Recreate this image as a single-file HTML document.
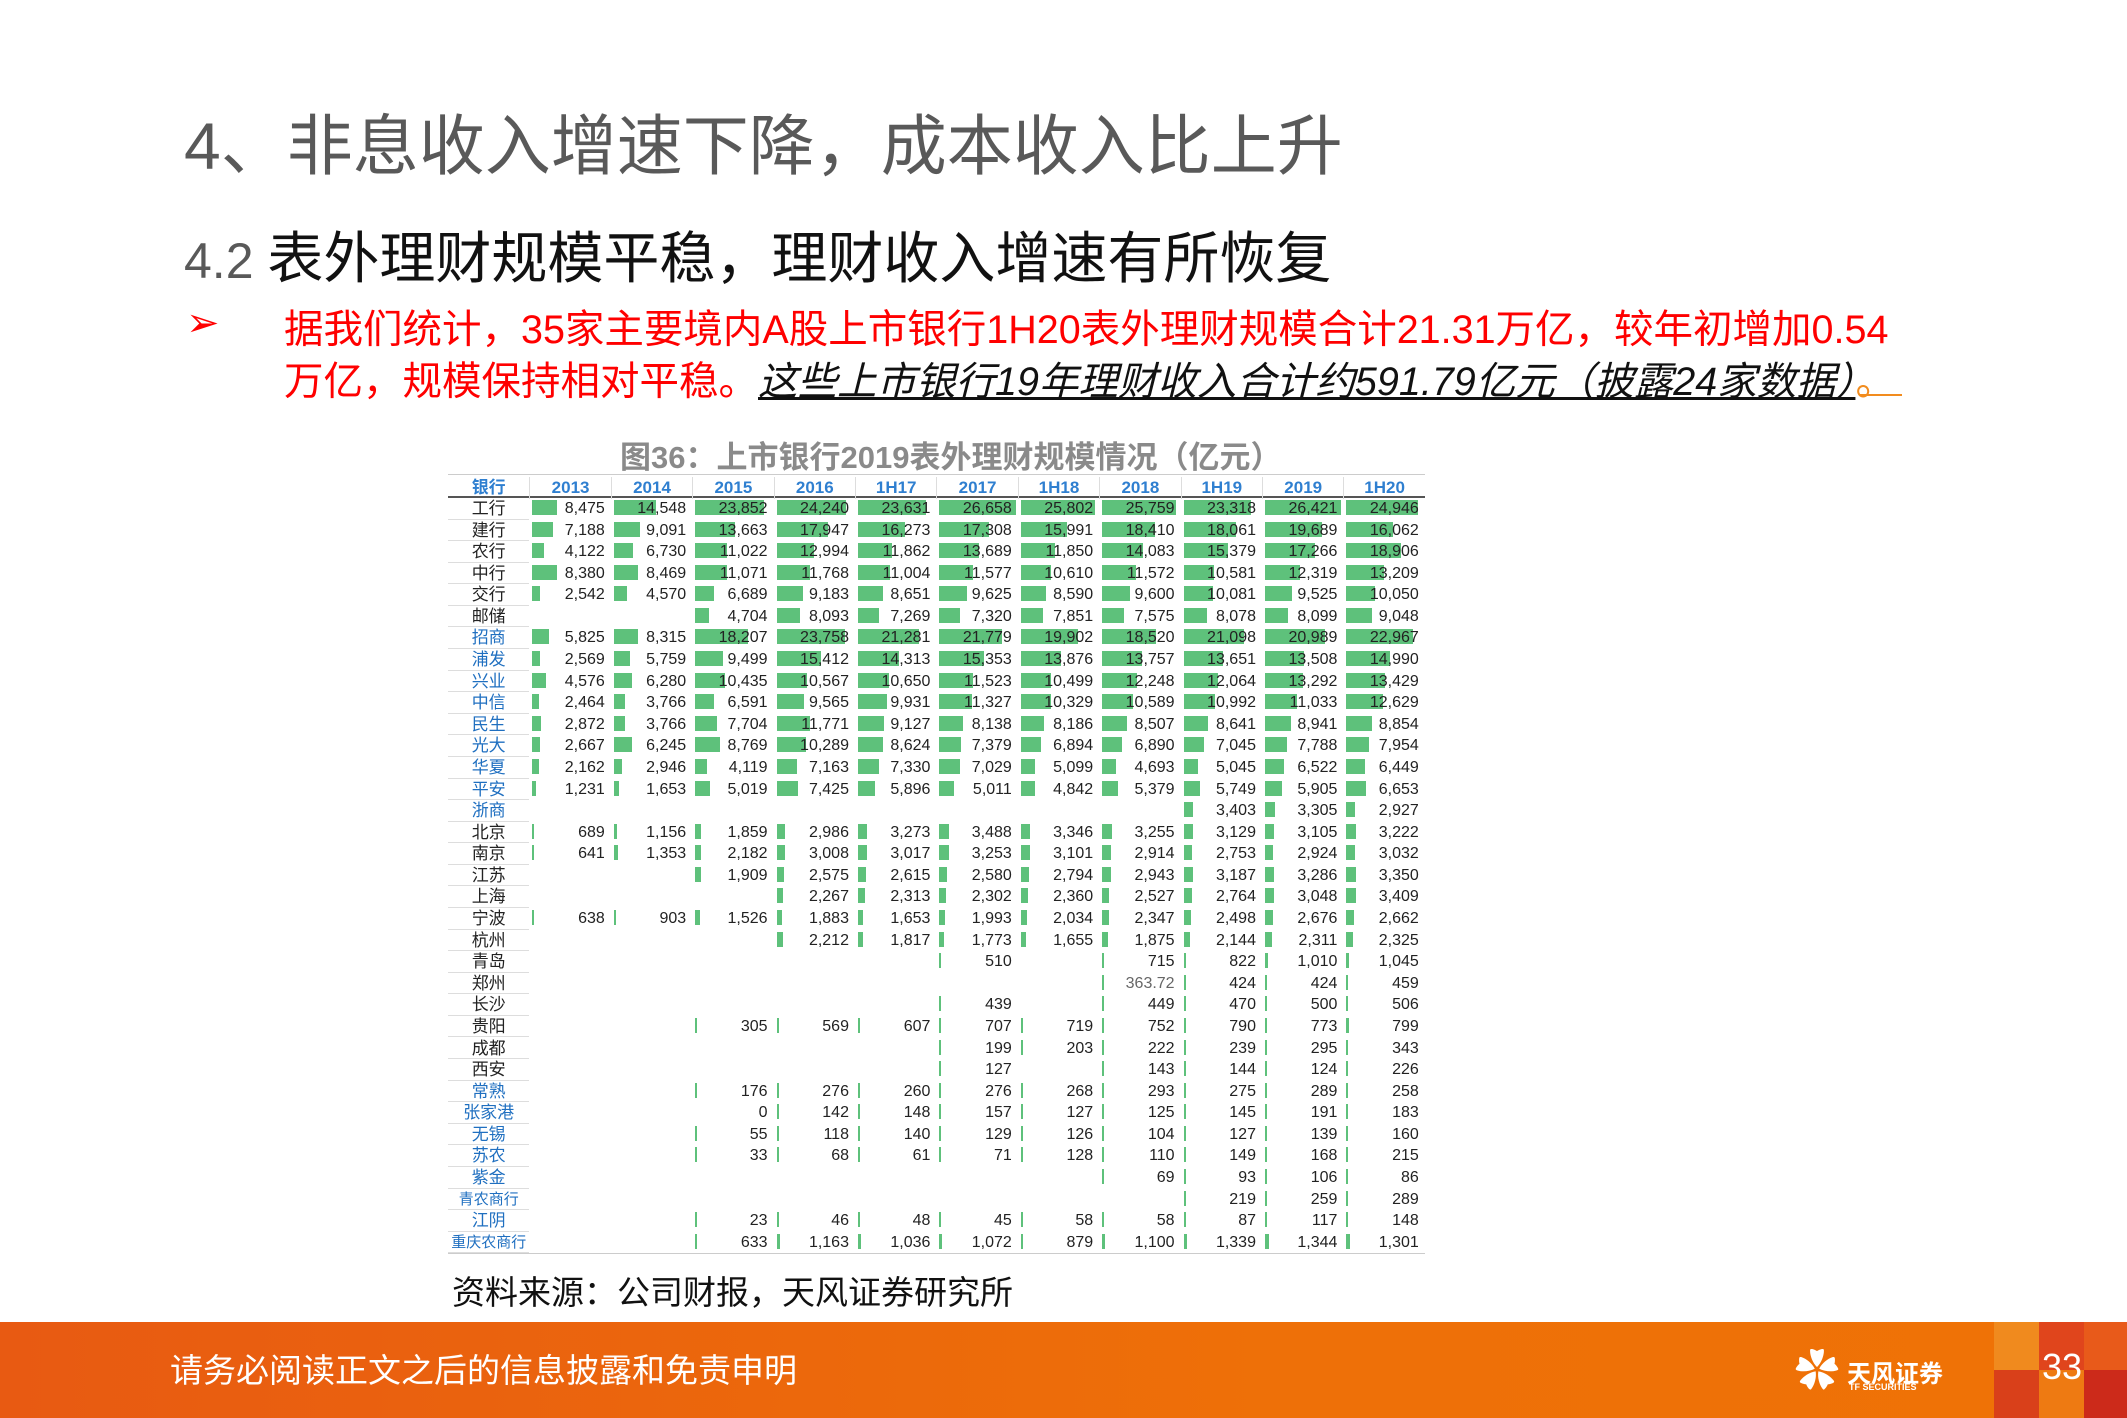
<!DOCTYPE html>
<html><head><meta charset="utf-8">
<style>
body{margin:0;width:2127px;height:1418px;position:relative;background:#fff;overflow:hidden;font-family:"Liberation Sans","Noto Sans CJK SC",sans-serif}
.abs{position:absolute;white-space:nowrap}
.cell{position:absolute;font-size:16px;color:#222;text-align:right;line-height:21px}
.bar{position:absolute;background:#5ec17b;height:15px}
.nm{position:absolute;font-size:17px;text-align:center;line-height:21px;font-family:"Liberation Sans","Noto Sans CJK SC",sans-serif}
.hd{position:absolute;font-size:17px;font-weight:bold;color:#2f7fd0;text-align:center;line-height:22px}
</style></head><body>
<div class="abs" style="left:184px;top:93px;font-size:66px;color:#595959;font-family:'Liberation Sans','Noto Sans CJK SC',sans-serif">4、非息收入增速下降，成本收入比上升</div>
<div class="abs" style="left:184px;top:214px;font-size:56px;color:#111;font-family:'Liberation Sans','Noto Sans CJK SC',sans-serif"><span style="color:#595959;font-size:50px">4.2 </span>表外理财规模平稳，理财收入增速有所恢复</div>
<div class="abs" style="left:186px;top:300px;font-size:40px;color:#ff0000">➢</div>
<div class="abs" style="left:284px;top:298px;font-size:39.5px;color:#ff0000">据我们统计，35家主要境内A股上市银行1H20表外理财规模合计21.31万亿，较年初增加0.54</div>
<div class="abs" style="left:284px;top:350px;font-size:39.5px;color:#ff0000">万亿，规模保持相对平稳。<span style="color:#111;font-style:italic;text-decoration:underline">这些上市银行19年理财收入合计约591.79亿元（披露24家数据）</span><span style="color:#f28c1e">。</span></div>
<div class="abs" style="left:1860px;top:394px;width:42px;height:2px;background:#f28c1e"></div>
<div class="abs" style="left:620px;top:432px;font-size:31px;font-weight:bold;color:#8a8a8a">图36：上市银行2019表外理财规模情况（亿元）</div>
<div id="tbl" style="position:absolute;left:0;top:0"></div>
<div class="abs" style="left:452px;top:1266px;font-size:33px;color:#111">资料来源：公司财报，天风证券研究所</div>
<div class="abs" style="left:0;top:1322px;width:2127px;height:96px;background:linear-gradient(90deg,#e85a12,#ee7008 60%,#ef7206)"></div>
<div class="abs" style="left:1994px;top:1322px;width:133px;height:96px">
 <div style="position:absolute;left:0;top:0;width:45px;height:48px;background:#f08a1e"></div>
 <div style="position:absolute;left:45px;top:0;width:45px;height:48px;background:#e0451c"></div>
 <div style="position:absolute;left:90px;top:0;width:43px;height:48px;background:#e85a1a"></div>
 <div style="position:absolute;left:0;top:48px;width:45px;height:48px;background:#d9401a"></div>
 <div style="position:absolute;left:45px;top:48px;width:45px;height:48px;background:#ee7a12"></div>
 <div style="position:absolute;left:90px;top:48px;width:43px;height:48px;background:#cc2a1a"></div>
</div>
<div class="abs" style="left:170px;top:1344px;font-size:33px;color:#fff">请务必阅读正文之后的信息披露和免责申明</div>
<div class="abs" style="left:1795px;top:1342px;color:#fff">
 <div style="position:absolute;left:0;top:8px;width:44px;height:44px;font-size:44px;line-height:44px">✿</div>
 <div style="position:absolute;left:52px;top:12px;font-size:24px;font-weight:bold">天风证券</div>
 <div style="position:absolute;left:54px;top:40px;font-size:9px;font-weight:bold">TF SECURITIES</div>
</div>
<div class="abs" style="left:2042px;top:1346px;font-size:36px;color:#fff">33</div>
<script>
const periods=["2013","2014","2015","2016","1H17","2017","1H18","2018","1H19","2019","1H20"];
const banks=["工行","建行","农行","中行","交行","邮储","招商","浦发","兴业","中信","民生","光大","华夏","平安","浙商","北京","南京","江苏","上海","宁波","杭州","青岛","郑州","长沙","贵阳","成都","西安","常熟","张家港","无锡","苏农","紫金","青农商行","江阴","重庆农商行"];
const blueBanks=["招商","浦发","兴业","中信","民生","光大","华夏","平安","浙商","常熟","张家港","无锡","苏农","紫金","青农商行","江阴","重庆农商行"];
const N=null;
const values=[
[8475,14548,23852,24240,23631,26658,25802,25759,23318,26421,24946],
[7188,9091,13663,17947,16273,17308,15991,18410,18061,19689,16062],
[4122,6730,11022,12994,11862,13689,11850,14083,15379,17266,18906],
[8380,8469,11071,11768,11004,11577,10610,11572,10581,12319,13209],
[2542,4570,6689,9183,8651,9625,8590,9600,10081,9525,10050],
[N,N,4704,8093,7269,7320,7851,7575,8078,8099,9048],
[5825,8315,18207,23758,21281,21779,19902,18520,21098,20989,22967],
[2569,5759,9499,15412,14313,15353,13876,13757,13651,13508,14990],
[4576,6280,10435,10567,10650,11523,10499,12248,12064,13292,13429],
[2464,3766,6591,9565,9931,11327,10329,10589,10992,11033,12629],
[2872,3766,7704,11771,9127,8138,8186,8507,8641,8941,8854],
[2667,6245,8769,10289,8624,7379,6894,6890,7045,7788,7954],
[2162,2946,4119,7163,7330,7029,5099,4693,5045,6522,6449],
[1231,1653,5019,7425,5896,5011,4842,5379,5749,5905,6653],
[N,N,N,N,N,N,N,N,3403,3305,2927],
[689,1156,1859,2986,3273,3488,3346,3255,3129,3105,3222],
[641,1353,2182,3008,3017,3253,3101,2914,2753,2924,3032],
[N,N,1909,2575,2615,2580,2794,2943,3187,3286,3350],
[N,N,N,2267,2313,2302,2360,2527,2764,3048,3409],
[638,903,1526,1883,1653,1993,2034,2347,2498,2676,2662],
[N,N,N,2212,1817,1773,1655,1875,2144,2311,2325],
[N,N,N,N,N,510,N,715,822,1010,1045],
[N,N,N,N,N,N,N,363.72,424,424,459],
[N,N,N,N,N,439,N,449,470,500,506],
[N,N,305,569,607,707,719,752,790,773,799],
[N,N,N,N,N,199,203,222,239,295,343],
[N,N,N,N,N,127,N,143,144,124,226],
[N,N,176,276,260,276,268,293,275,289,258],
[N,N,0,142,148,157,127,125,145,191,183],
[N,N,55,118,140,129,126,104,127,139,160],
[N,N,33,68,61,71,128,110,149,168,215],
[N,N,N,N,N,N,N,69,93,106,86],
[N,N,N,N,N,N,N,N,219,259,289],
[N,N,23,46,48,45,58,58,87,117,148],
[N,N,633,1163,1036,1072,879,1100,1339,1344,1301]
];
const L=448,colW=81.4,headTop=477,rowTop=498,rowH=21.58,k=0.00288;
const t=document.getElementById('tbl');
function add(cls,css,txt){const d=document.createElement('div');d.className=cls;d.style.cssText=css;if(txt!=null)d.textContent=txt;t.appendChild(d);return d;}
function colX(j){return L+colW*(j+1);}
function rowY(i){return rowTop+rowH*i;}
function fmt(v){return Number.isInteger(v)?v.toLocaleString('en-US'):String(v);}
let ln=add('', `position:absolute;left:${L}px;top:${headTop-3}px;width:${colW*12}px;height:1px;background:#ccc`);


ln=add('', `position:absolute;left:${L}px;top:${rowTop-2}px;width:${colW*12}px;height:2px;background:#555`);


let h=add('hd',`left:${L}px;top:${headTop}px;width:${colW}px`,'银行');


periods.forEach((p,j)=>{
  const d=add('hd',`left:${colX(j)}px;top:${headTop}px;width:${colW}px;border-left:1px solid #ddd;box-sizing:border-box`,p);
  
  
});
banks.forEach((b,i)=>{
  const y=rowY(i);
  const n=add('nm',`left:${L}px;top:${y}px;width:${colW}px;color:${blueBanks.includes(b)?'#1f6fc0':'#222'};font-size:${b.length>3?15:17}px;border-bottom:1px solid #ddd;box-sizing:border-box;height:${rowH}px`,b);
  
  
  values[i].forEach((v,j)=>{
    if(v===null)return;
    const x=colX(j);
    if(v>0){
      const bar=add('bar',`left:${x+3}px;top:${y+2}px;width:${Math.max(2,v*k)}px`);
      
      
    }
    const c=add('cell',`left:${x}px;top:${y}px;width:${colW-6}px;${v%1!==0?'color:#666;':''}`,fmt(v));
    
    
  });
});
ln=add('', `position:absolute;left:${L}px;top:${rowY(banks.length)}px;width:${colW*12}px;height:1px;background:#ccc`);


</script>
</body></html>
